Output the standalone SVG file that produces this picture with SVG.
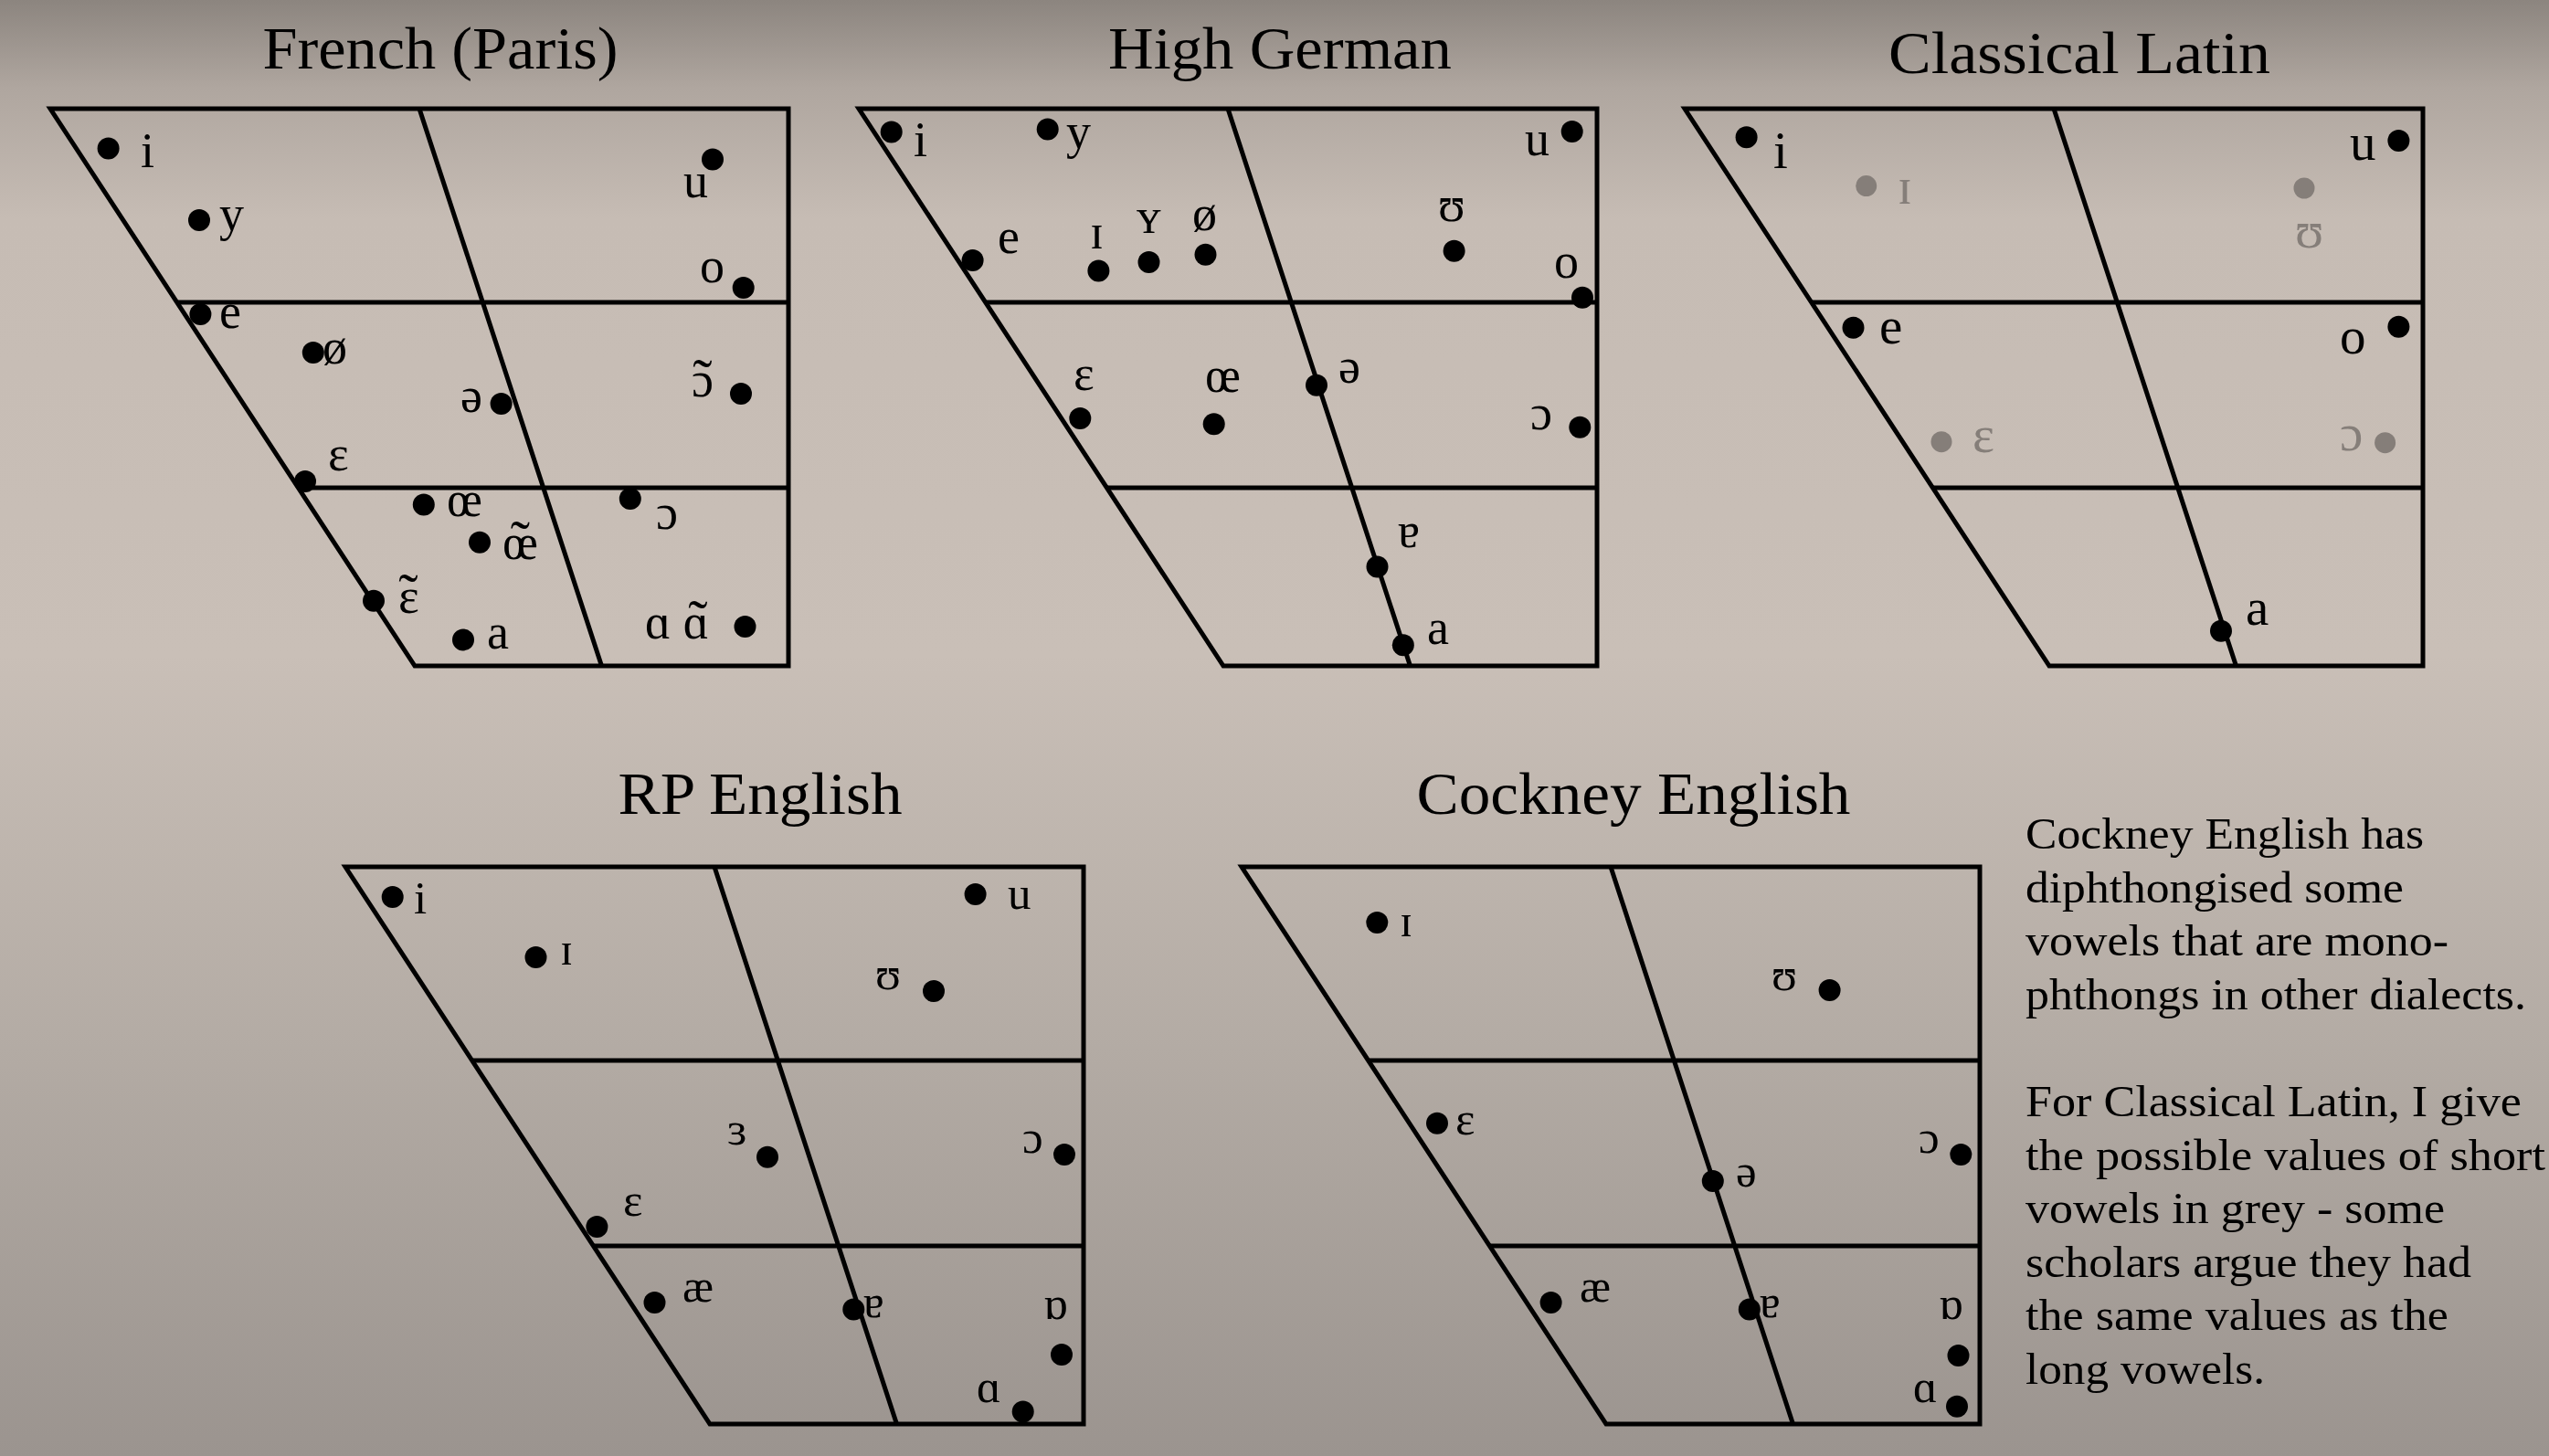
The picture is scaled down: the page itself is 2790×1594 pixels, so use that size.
<svg xmlns="http://www.w3.org/2000/svg" xmlns:xlink="http://www.w3.org/1999/xlink" width="2790" height="1594" viewBox="0 0 2790 1594">
<style>
.ln{fill:none;stroke:#000;stroke-width:5}
.d{fill:#000}
.gd{fill:#857e79}
text{font-family:"Liberation Serif","DejaVu Serif",serif;fill:#000}
.t{font-size:66px;text-anchor:middle}
.lb{font-size:54px}
.lt{font-size:57px}
.lr{font-size:51px}
.gl{fill:#857e79}
.tl{font-size:64px}
.p{font-size:49px}
</style>
<defs>
<linearGradient id="bg" x1="0" y1="0" x2="0" y2="1">
<stop offset="0" stop-color="#8c857f"/>
<stop offset="0.06" stop-color="#afa69f"/>
<stop offset="0.15" stop-color="#c6bcb4"/>
<stop offset="0.45" stop-color="#c9bfb7"/>
<stop offset="0.72" stop-color="#b3aba4"/>
<stop offset="1" stop-color="#9b948f"/>
</linearGradient>
<g id="frame">
<path class="ln" d="M0,0 H808 V610 H399 Z"/>
<path class="ln" d="M404,0 L603.5,610 M138.7,212 H808 M271.5,415 H808"/>
</g>
</defs>
<rect width="2790" height="1594" fill="url(#bg)"/>

<g id="french">
<text class="t" x="482" y="75" textLength="389" lengthAdjust="spacingAndGlyphs">French (Paris)</text>
<use href="#frame" x="55" y="119"/>
<g class="d">
<circle cx="118.6" cy="162.4" r="12"/><circle cx="218" cy="241" r="12"/><circle cx="780" cy="174.5" r="12"/><circle cx="813.7" cy="315" r="12"/><circle cx="219.4" cy="344" r="12"/><circle cx="342.8" cy="386" r="12"/><circle cx="548.6" cy="442" r="12"/><circle cx="811" cy="431" r="12"/><circle cx="334" cy="527" r="12"/><circle cx="463.8" cy="552.6" r="12"/><circle cx="689.8" cy="546" r="12"/><circle cx="525" cy="593.8" r="12"/><circle cx="409" cy="657.7" r="12"/><circle cx="507" cy="700.4" r="12"/><circle cx="815.5" cy="685.9" r="12"/>
</g>
<g class="lb">
<text x="154" y="183">i</text><text x="240" y="252">y</text><text x="748" y="216">u</text><text x="766" y="309">o</text><text x="240" y="359">e</text><text x="353" y="398">ø</text><text x="504" y="451">ə</text>
<text x="757" y="434">ɔ<tspan class="tl" dx="-22.7" dy="3">˜</tspan></text>
<text x="359" y="515">ɛ</text><text x="489" y="565">œ</text><text x="718" y="579">ɔ</text>
<text x="550" y="612">œ<tspan class="tl" dx="-30.2" dy="2">˜</tspan></text>
<text x="436" y="671">ɛ<tspan class="tl" dx="-22.5" dy="1">˜</tspan></text>
<text x="533" y="710">a</text>
<text x="706" y="699">ɑ ɑ<tspan class="tl" dx="-22.7" dy="2">˜</tspan></text>
</g>
</g>

<g id="high-german">
<text class="t" x="1401" y="75" textLength="376" lengthAdjust="spacingAndGlyphs">High German</text>
<use href="#frame" x="940" y="119"/>
<g class="d">
<circle cx="975.7" cy="144.4" r="12"/><circle cx="1146.7" cy="141.5" r="12"/><circle cx="1720.7" cy="144" r="12"/><circle cx="1064.6" cy="285" r="12"/><circle cx="1202.4" cy="296.6" r="12"/><circle cx="1257.5" cy="287" r="12"/><circle cx="1319.5" cy="278.7" r="12"/><circle cx="1591.6" cy="274.8" r="12"/><circle cx="1732" cy="325.7" r="12"/><circle cx="1182.3" cy="458" r="12"/><circle cx="1328.7" cy="464.3" r="12"/><circle cx="1441" cy="421.7" r="12"/><circle cx="1729.3" cy="467.7" r="12"/><circle cx="1507.5" cy="620.4" r="12"/><circle cx="1535.8" cy="706.2" r="12"/>
</g>
<g class="lb">
<text x="1000" y="171">i</text><text x="1167" y="162">y</text><text x="1669" y="170">u</text><text x="1092" y="277">e</text><text x="1193" y="272">ɪ</text><text x="1244" y="255">ʏ</text><text x="1305" y="252">ø</text><text x="1574" y="242">ʊ</text><text x="1701" y="304">o</text><text x="1175" y="427">ɛ</text><text x="1319" y="429">œ</text><text x="1465" y="419">ə</text><text x="1675" y="470">ɔ</text><text x="1530" y="599">ɐ</text><text x="1562" y="705">a</text>
</g>
</g>

<g id="classical-latin">
<text class="t" x="2276" y="80" textLength="418" lengthAdjust="spacingAndGlyphs">Classical Latin</text>
<use href="#frame" x="1844" y="119"/>
<g class="d">
<circle cx="1911.6" cy="150.3" r="12"/><circle cx="2625.4" cy="154" r="12"/><circle cx="2028.5" cy="358.7" r="12"/><circle cx="2625.4" cy="357.7" r="12"/><circle cx="2431" cy="690.7" r="12"/>
</g>
<g class="gd">
<circle cx="2042.7" cy="203.6" r="11.5"/><circle cx="2522" cy="206" r="11.5"/><circle cx="2125" cy="483.7" r="11.5"/><circle cx="2610.6" cy="484.7" r="11.5"/>
</g>
<g class="lt">
<text x="1941" y="184">i</text><text x="2572" y="175">u</text><text x="2057" y="376">e</text><text x="2561" y="387">o</text><text x="2458" y="684">a</text>
<text class="gl" x="2077" y="223">ɪ</text><text class="gl" x="2512" y="271">ʊ</text><text class="gl" x="2159" y="495">ɛ</text><text class="gl" x="2561" y="493">ɔ</text>
</g>
</g>

<g id="rp-english">
<text class="t" x="832" y="891" textLength="311" lengthAdjust="spacingAndGlyphs">RP English</text>
<use href="#frame" x="378" y="949"/>
<g class="d">
<circle cx="429.7" cy="981.9" r="12"/><circle cx="586.5" cy="1048" r="12"/><circle cx="1067.6" cy="979" r="12"/><circle cx="1022" cy="1085" r="12"/><circle cx="840" cy="1266.7" r="12"/><circle cx="1165" cy="1264" r="12"/><circle cx="653.4" cy="1343" r="12"/><circle cx="716.5" cy="1426" r="12"/><circle cx="934.3" cy="1433.5" r="12"/><circle cx="1162" cy="1483" r="12"/><circle cx="1119.7" cy="1545.6" r="12"/>
</g>
<g class="lr">
<text x="453" y="1000">i</text><text x="613" y="1056">ɪ</text><text x="1103" y="995">u</text><text x="958" y="1083">ʊ</text><text x="796" y="1253">ɜ</text><text x="1119" y="1262">ɔ</text><text x="682" y="1331">ɛ</text><text x="747" y="1425">æ</text><text x="945" y="1442">ɐ</text><text x="1142" y="1444">ɒ</text><text x="1069" y="1535">ɑ</text>
</g>
</g>

<g id="cockney-english">
<text class="t" x="1788" y="891" textLength="475" lengthAdjust="spacingAndGlyphs">Cockney English</text>
<use href="#frame" x="1359" y="949"/>
<g class="d">
<circle cx="1507.3" cy="1010" r="12"/><circle cx="2002.6" cy="1084" r="12"/><circle cx="1573" cy="1229.7" r="12"/><circle cx="2146.3" cy="1264" r="12"/><circle cx="1874.8" cy="1292.9" r="12"/><circle cx="1697.6" cy="1426" r="12"/><circle cx="1914.8" cy="1433.5" r="12"/><circle cx="2143.5" cy="1484" r="12"/><circle cx="2142" cy="1539.7" r="12"/>
</g>
<g class="lr">
<text x="1532" y="1025">ɪ</text><text x="1939" y="1084">ʊ</text><text x="1593" y="1242">ɛ</text><text x="2100" y="1262">ɔ</text><text x="1900" y="1299">ə</text><text x="1729" y="1425">æ</text><text x="1926" y="1442">ɐ</text><text x="2122" y="1444">ɒ</text><text x="2094" y="1535">ɑ</text>
</g>
</g>

<g id="note" class="p">
<text x="2217" y="929" textLength="436" lengthAdjust="spacingAndGlyphs">Cockney English has</text>
<text x="2217" y="987.6" textLength="414" lengthAdjust="spacingAndGlyphs">diphthongised some</text>
<text x="2217" y="1046.2" textLength="463" lengthAdjust="spacingAndGlyphs">vowels that are mono-</text>
<text x="2217" y="1104.8" textLength="548" lengthAdjust="spacingAndGlyphs">phthongs in other dialects.</text>
<text x="2217" y="1222" textLength="543" lengthAdjust="spacingAndGlyphs">For Classical Latin, I give</text>
<text x="2217" y="1280.6" textLength="569" lengthAdjust="spacingAndGlyphs">the possible values of short</text>
<text x="2217" y="1339.2" textLength="459" lengthAdjust="spacingAndGlyphs">vowels in grey - some</text>
<text x="2217" y="1397.8" textLength="488" lengthAdjust="spacingAndGlyphs">scholars argue they had</text>
<text x="2217" y="1456.4" textLength="463" lengthAdjust="spacingAndGlyphs">the same values as the</text>
<text x="2217" y="1515" textLength="262" lengthAdjust="spacingAndGlyphs">long vowels.</text>
</g>
</svg>
